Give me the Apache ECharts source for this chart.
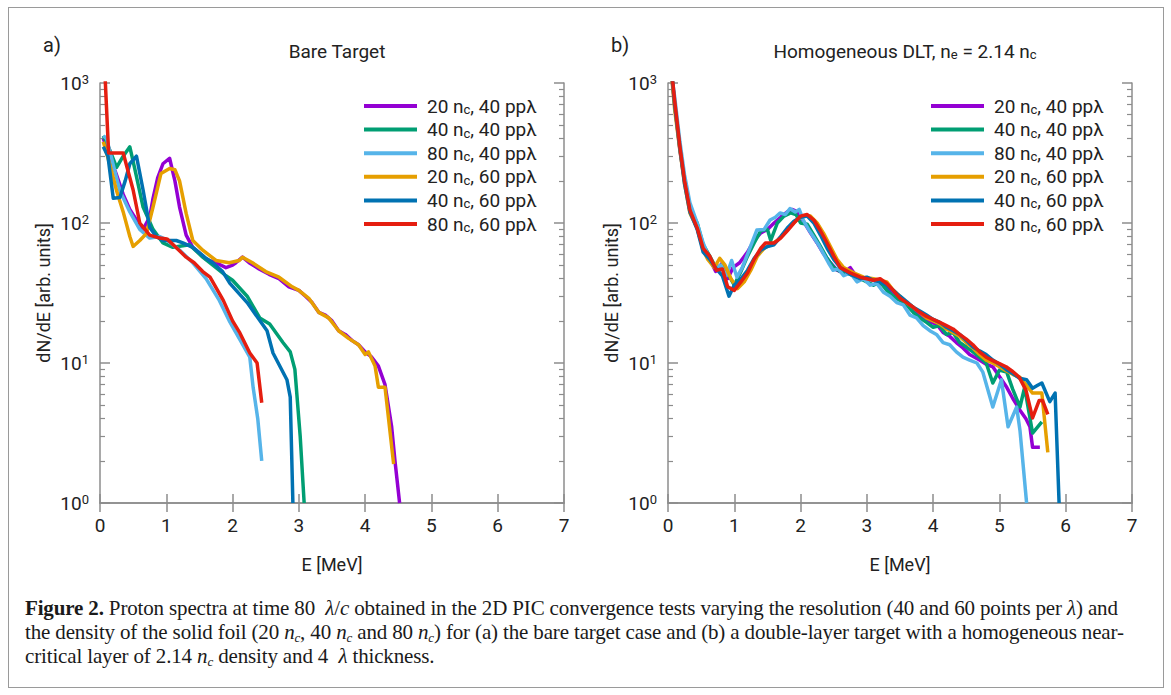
<!DOCTYPE html>
<html><head><meta charset="utf-8">
<script src="https://cdn.jsdelivr.net/npm/echarts@6/dist/echarts.min.js"></script>
<style>
html,body{margin:0;padding:0;background:#fff;width:1171px;height:695px;overflow:hidden;}
#frame{position:absolute;left:8px;top:7px;width:1156px;height:681px;border:1.5px solid #9a9a9a;box-sizing:border-box;}
#chart{position:absolute;left:0;top:0;width:1171px;height:590px;}
#caption{position:absolute;left:25px;top:596px;font-family:"Liberation Serif","DejaVu Serif",serif;font-size:21px;line-height:24px;color:#1a1a1a;white-space:nowrap;letter-spacing:-0.15px;}
#caption i{font-style:italic;}
#caption sub{font-size:13px;vertical-align:-3px;line-height:0;}
</style></head><body>
<div id="frame"></div>
<div id="chart"></div>
<div id="caption"><b>Figure 2.</b> Proton spectra at time 80 &nbsp;<i>λ</i>/<i>c</i> obtained in the 2D PIC convergence tests varying the resolution (40 and 60 points per <i>λ</i>) and<br>the density of the solid foil (20 <i>n<sub>c</sub></i>, 40 <i>n<sub>c</sub></i> and 80 <i>n<sub>c</sub></i>) for (a) the bare target case and (b) a double-layer target with a homogeneous near-<br>critical layer of 2.14 <i>n<sub>c</sub></i> density and 4 &nbsp;<i>λ</i> thickness.</div>
<script>
// ---------- series names & colours ----------
const seriesNames = ['20 n_c, 40 ppλ','40 n_c, 40 ppλ','80 n_c, 40 ppλ','20 n_c, 60 ppλ','40 n_c, 60 ppλ','80 n_c, 60 ppλ'];
const seriesColors = ['#9400d3','#009e73','#56b4e9','#e69f00','#0072b2','#e51e10'];
const xTicks = [0,1,2,3,4,5,6,7];
const yDecades = [1,10,100,1000];
const minorMantissas = [2,3,4,5,6,7,8,9];

// ---------- panel a) Bare Target : [E (MeV), dN/dE] ----------
const aPurple = [[0.05,400],[0.15,300],[0.25,220],[0.35,160],[0.45,125],[0.55,105],[0.65,90],[0.75,110],[0.8,150],[0.87,210],[0.95,265],[1.05,290],[1.13,200],[1.2,130],[1.3,82],[1.4,67],[1.5,61],[1.6,55],[1.75,52],[1.9,48],[2.0,50],[2.05,52],[2.15,57],[2.25,52],[2.4,47],[2.55,43],[2.7,40],[2.85,35],[3.0,33],[3.1,30],[3.2,27],[3.3,23],[3.4,22],[3.5,20],[3.6,17],[3.7,16],[3.8,14.5],[3.9,13.5],[4.0,12],[4.1,11],[4.2,9.5],[4.3,7],[4.4,3.5],[4.45,2],[4.52,1]];
const aGreen = [[0.05,420],[0.15,330],[0.25,250],[0.35,300],[0.45,350],[0.52,250],[0.65,130],[0.8,90],[0.95,72],[1.1,67],[1.35,70],[1.55,57],[1.75,48],[1.9,42],[2.0,39],[2.22,30],[2.41,21],[2.56,19],[2.76,14],[2.87,12],[2.94,9],[3.02,3],[3.08,1]];
const aLightBlue = [[0.05,420],[0.1,400],[0.2,260],[0.3,170],[0.45,120],[0.6,90],[0.75,78],[0.9,80],[1.0,76],[1.2,64],[1.4,52],[1.6,40],[1.8,28],[1.95,20],[2.1,15],[2.26,11],[2.31,6.7],[2.38,4],[2.44,2]];
const aOrange = [[0.05,380],[0.15,260],[0.25,170],[0.35,120],[0.45,80],[0.5,68],[0.6,75],[0.7,84],[0.8,130],[0.92,226],[1.05,245],[1.13,240],[1.2,200],[1.3,117],[1.4,75],[1.55,64],[1.75,54],[1.95,52],[2.1,54],[2.15,57],[2.3,52],[2.5,45],[2.7,41],[2.9,35],[3.0,33],[3.15,29],[3.3,23],[3.45,21],[3.6,17],[3.75,15],[3.9,13.5],[4.0,11.5],[4.05,12],[4.15,9.5],[4.2,6.7],[4.3,6.7],[4.43,1.9]];
const aDarkBlue = [[0.05,350],[0.12,300],[0.2,150],[0.3,152],[0.38,200],[0.45,265],[0.55,300],[0.65,172],[0.75,93],[0.85,80],[0.95,75],[1.15,75],[1.25,72],[1.4,67],[1.6,56],[1.7,52],[1.85,45],[1.96,37],[2.22,27],[2.52,17],[2.61,11.8],[2.82,7.6],[2.87,5.7],[2.91,1]];
const aRed = [[0.07,1300],[0.13,316],[0.35,316],[0.5,172],[0.6,100],[0.75,82],[0.9,78],[1.01,77],[1.16,66],[1.3,57],[1.42,52],[1.55,45],[1.66,41],[1.86,28],[2.0,20],[2.11,16.4],[2.26,11.8],[2.37,10],[2.44,5.2]];

// ---------- panel b) Homogeneous DLT ----------
const bPurple = [[0.05,1200],[0.1,700],[0.18,330],[0.25,200],[0.33,124],[0.44,92],[0.53,66],[0.63,55],[0.72,45],[0.82,52],[0.9,40],[0.98,48],[1.08,52],[1.2,62],[1.3,75],[1.4,85],[1.5,90],[1.6,100],[1.7,110],[1.8,120],[1.88,125],[1.95,120],[2.05,102],[2.15,85],[2.25,72],[2.35,60],[2.45,52],[2.55,46],[2.65,44],[2.75,48],[2.85,41],[3.0,40],[3.1,39],[3.2,37],[3.3,35],[3.4,32],[3.5,29],[3.6,26],[3.7,24],[3.8,22],[3.9,20],[4.05,19],[4.15,16.5],[4.25,15.5],[4.35,14],[4.45,12.8],[4.55,11.5],[4.7,10.5],[4.8,9.8],[4.9,9.4],[5.0,8],[5.11,6.7],[5.2,5.6],[5.31,4.6],[5.4,4],[5.46,3.5],[5.5,2.5],[5.61,2.5]];
const bGreen = [[0.05,1200],[0.1,720],[0.18,340],[0.25,205],[0.33,126],[0.44,100],[0.53,70],[0.63,58],[0.72,48],[0.82,50],[0.92,42],[1.0,36],[1.1,45],[1.2,58],[1.3,72],[1.4,88],[1.5,90],[1.55,75],[1.65,100],[1.75,112],[1.85,118],[1.93,115],[2.0,100],[2.1,98],[2.2,82],[2.3,68],[2.4,56],[2.5,48],[2.6,45],[2.75,43],[2.9,40],[3.0,38],[3.1,36],[3.2,38],[3.3,33],[3.4,30],[3.5,28],[3.6,26],[3.7,23],[3.8,21],[3.9,19.5],[4.0,18],[4.1,18.5],[4.2,16],[4.3,16.5],[4.4,14],[4.5,13],[4.6,12],[4.7,11],[4.8,10],[4.9,7.2],[5.0,8.9],[5.11,8.6],[5.2,6.5],[5.31,4.85],[5.38,6.7],[5.5,3.16],[5.64,3.8]];
const bLightBlue = [[0.05,1200],[0.1,800],[0.18,380],[0.25,220],[0.33,140],[0.44,100],[0.53,72],[0.63,55],[0.72,48],[0.8,50],[0.88,42],[0.96,54],[1.04,41],[1.12,48],[1.2,60],[1.34,89],[1.45,90],[1.54,105],[1.62,110],[1.69,118],[1.77,115],[1.84,127],[1.92,120],[1.98,125],[2.04,105],[2.12,90],[2.19,80],[2.27,70],[2.34,61],[2.42,52],[2.49,46],[2.57,47],[2.65,42],[2.75,44],[2.85,38],[2.95,40],[3.05,36],[3.15,37],[3.25,32],[3.35,30],[3.45,27],[3.55,26],[3.65,22],[3.75,21],[3.85,18.5],[3.95,17],[4.05,16],[4.15,14],[4.25,13.5],[4.35,12],[4.45,11],[4.55,10.5],[4.66,10],[4.75,8.6],[4.9,4.85],[5.03,7.6],[5.13,3.5],[5.26,4.85],[5.31,3.3],[5.41,1]];
const bOrange = [[0.05,1200],[0.1,650],[0.18,330],[0.25,190],[0.33,118],[0.44,92],[0.53,64],[0.6,55],[0.7,48],[0.78,56],[0.86,50],[0.95,40],[1.05,34],[1.15,38],[1.25,46],[1.35,58],[1.45,66],[1.55,70],[1.65,75],[1.75,84],[1.85,95],[1.95,106],[2.05,113],[2.15,112],[2.25,100],[2.35,84],[2.45,68],[2.55,55],[2.65,48],[2.8,44],[2.95,41],[3.1,40],[3.2,39],[3.3,38],[3.4,33],[3.5,30],[3.6,27],[3.7,25],[3.8,23],[3.9,21],[4.0,20],[4.1,19],[4.2,17.5],[4.3,16.5],[4.4,15.5],[4.5,14],[4.6,12.8],[4.7,11.5],[4.8,10.5],[4.9,10],[5.0,9.4],[5.1,8.8],[5.2,8.3],[5.31,7.9],[5.4,7.0],[5.5,6.1],[5.64,6.1],[5.73,2.3]];
const bDarkBlue = [[0.05,1300],[0.1,700],[0.18,340],[0.25,190],[0.33,120],[0.44,90],[0.53,62],[0.63,55],[0.73,47],[0.82,42],[0.92,30],[1.0,36],[1.1,40],[1.2,46],[1.3,56],[1.4,64],[1.5,68],[1.6,70],[1.7,80],[1.8,92],[1.9,103],[2.0,110],[2.1,112],[2.2,100],[2.3,82],[2.4,66],[2.5,55],[2.6,48],[2.75,43],[2.9,40],[3.0,41],[3.1,39],[3.2,38],[3.3,36],[3.4,33],[3.5,30],[3.6,27.5],[3.7,25],[3.8,23.5],[3.9,22],[4.0,20.5],[4.1,19.5],[4.2,18],[4.3,17],[4.4,16],[4.5,14.5],[4.6,13],[4.7,12.2],[4.8,11.5],[4.9,10.5],[5.0,9.8],[5.1,9],[5.2,8.4],[5.3,7.8],[5.41,7.6],[5.5,6.6],[5.57,6.9],[5.64,7.2],[5.76,5.3],[5.84,6.1],[5.9,1]];
const bRed = [[0.05,1300],[0.1,750],[0.18,350],[0.25,200],[0.33,124],[0.44,92],[0.53,66],[0.63,58],[0.73,46],[0.82,47],[0.9,35],[1.0,33],[1.1,38],[1.2,44],[1.3,55],[1.4,66],[1.47,72],[1.6,72],[1.7,78],[1.8,88],[1.9,100],[2.0,112],[2.1,115],[2.2,105],[2.3,88],[2.4,72],[2.5,58],[2.6,48],[2.75,44],[2.9,41],[3.0,40],[3.1,39],[3.2,40],[3.3,37],[3.4,33],[3.5,29],[3.6,27],[3.7,25],[3.8,23],[3.9,21.5],[4.0,20.5],[4.1,19.5],[4.2,18.5],[4.3,17.5],[4.4,16],[4.5,14.8],[4.6,13.5],[4.7,12],[4.8,11],[4.9,10.4],[5.0,9.9],[5.1,9.4],[5.2,8.7],[5.3,7.9],[5.4,6.4],[5.5,4.05],[5.6,5.4],[5.65,5.4],[5.73,4.3]];

const panelA = [aPurple,aGreen,aLightBlue,aOrange,aDarkBlue,aRed];
const panelB = [bPurple,bGreen,bLightBlue,bOrange,bDarkBlue,bRed];

// ---------- build ----------
const FONT = 'Roboto';
const AX = '#8c8c8c';
const TXT = '#222';
const minorLog = [];
yDecades.slice(0,3).forEach(d => minorMantissas.forEach(m => minorLog.push(Math.log10(m*d))));
function rich(fs){
  return {
    t:{fontFamily:FONT,fontSize:fs,color:TXT,lineHeight:20},
    s:{fontFamily:FONT,fontSize:Math.round(fs*0.68),color:TXT,lineHeight:12,verticalAlign:'bottom'},
    p:{fontFamily:FONT,fontSize:Math.round(fs*0.68),color:TXT,lineHeight:12,verticalAlign:'top'}
  };
}
function subFmt(name){
  return name.split(/(n_c)/).map(p => p==='n_c' ? '{t|n}{s|c}' : (p ? '{t|'+p+'}' : '')).join('');
}
const grids = [{left:100, top:83, width:464, height:420},{left:668, top:83, width:464, height:420}];
const xAxes = [], yAxes = [], series = [], legends = [];
grids.forEach((g, gi) => {
  xAxes.push({gridIndex:gi, type:'value', position:'bottom', min:xTicks[0], max:xTicks[xTicks.length-1], interval:1,
    name:'E [MeV]', nameLocation:'middle', nameGap:52, nameTextStyle:{fontFamily:FONT,fontSize:18,color:TXT},
    axisLine:{show:true,lineStyle:{color:AX,width:1.5}}, axisTick:{show:true,inside:true,length:9,lineStyle:{color:AX,width:1.5}},
    axisLabel:{show:true,margin:13,fontFamily:FONT,fontSize:19,color:TXT}, splitLine:{show:false}});
  xAxes.push({gridIndex:gi, type:'value', position:'top', min:xTicks[0], max:xTicks[xTicks.length-1], interval:1,
    axisLine:{show:true,lineStyle:{color:AX,width:1.5}}, axisTick:{show:true,inside:true,length:9,lineStyle:{color:AX,width:1.5}},
    axisLabel:{show:false}, splitLine:{show:false}});
  ['left','right'].forEach(pos => {
    yAxes.push({gridIndex:gi, type:'log', logBase:10, position:pos, min:yDecades[0], max:yDecades[yDecades.length-1],
      name: pos==='left' ? 'dN/dE [arb. units]' : '', nameLocation:'middle', nameGap:48, nameRotate:90,
      nameTextStyle:{fontFamily:FONT,fontSize:18,color:TXT},
      axisLine:{show:true,lineStyle:{color:AX,width:1.5}}, axisTick:{show:true,inside:true,length:10,lineStyle:{color:AX,width:1.5}},
      axisLabel:{show:pos==='left', margin:11, formatter:v => '{t|10}{p|'+Math.round(Math.log10(v))+'}', rich:rich(19)},
      splitLine:{show:false}, minorTick:{show:false}});
    yAxes.push({gridIndex:gi, type:'value', position:pos, min:0, max:3,
      axisLine:{show:false}, axisLabel:{show:false}, splitLine:{show:false},
      axisTick:{show:true,inside:true,length:5,customValues:minorLog,lineStyle:{color:AX,width:1.2}}});
  });
  const data = gi===0 ? panelA : panelB;
  data.forEach((d, si) => {
    series.push({type:'line', name:seriesNames[si], xAxisIndex:gi*2, yAxisIndex:gi*4, data:d,
      symbol:'none', clip:true, color:seriesColors[si], lineStyle:{width:3.5, color:seriesColors[si], join:'round'},
      emphasis:{disabled:true}, animation:false});
  });
  legends.push({left: gi===0 ? 359 : 926, top:91, orient:'vertical', icon:'rect', itemWidth:53, itemHeight:4, itemGap:3.6,
    selectedMode:false, data:seriesNames.map((n,i)=>({name:n, itemStyle:{color:seriesColors[i]}})),
    formatter:subFmt, textStyle:{fontFamily:FONT,fontSize:19,color:TXT,lineHeight:20,padding:[0,0,0,5],rich:rich(19)}});
});

const titles = [
  {text:'a)', left:38, top:30, textStyle:{fontFamily:FONT,fontSize:20,fontWeight:'normal',color:TXT}},
  {text:'Bare Target', left:332, top:37, textAlign:'center', textStyle:{fontFamily:FONT,fontSize:19,fontWeight:'normal',color:TXT}},
  {text:'b)', left:606, top:30, textStyle:{fontFamily:FONT,fontSize:20,fontWeight:'normal',color:TXT}},
  {text:'{t|Homogeneous DLT, n}{s|e}{t| = 2.14 n}{s|c}', left:900, top:36, textAlign:'center', textStyle:{fontFamily:FONT,fontSize:19,fontWeight:'normal',color:TXT,rich:rich(19)}}
];

const chart = echarts.init(document.getElementById('chart'), null, {renderer:'svg'});
chart.setOption({animation:false, backgroundColor:'transparent', title:titles, grid:grids, xAxis:xAxes, yAxis:yAxes, legend:legends, series:series});
</script>
</body></html>
